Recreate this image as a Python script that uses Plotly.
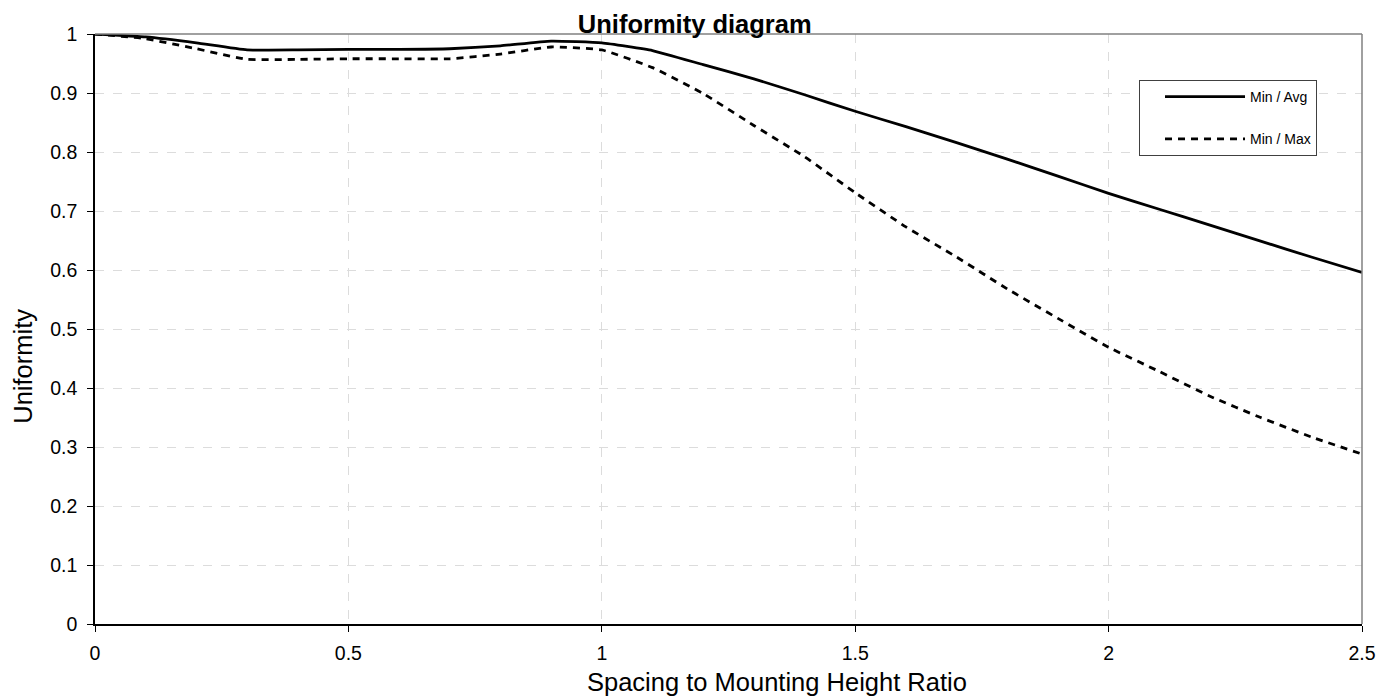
import plotly.graph_objects as go

ratio = [0, 0.1, 0.2, 0.3, 0.4, 0.5, 0.6, 0.7, 0.8, 0.9, 1.0, 1.1, 1.2, 1.3, 1.4, 1.5,
         1.6, 1.7, 1.8, 1.9, 2.0, 2.1, 2.2, 2.3, 2.4, 2.5]
min_avg = [1.0, 0.995, 0.985, 0.973, 0.973, 0.974, 0.974, 0.975, 0.980, 0.988, 0.985, 0.972,
           0.948, 0.924, 0.897, 0.869, 0.843, 0.816, 0.788, 0.759, 0.730, 0.703, 0.676,
           0.649, 0.622, 0.596]
min_max = [1.0, 0.992, 0.975, 0.957, 0.957, 0.958, 0.958, 0.958, 0.966, 0.978, 0.973, 0.943,
           0.899, 0.845, 0.792, 0.731, 0.673, 0.622, 0.568, 0.518, 0.469, 0.428, 0.386,
           0.350, 0.317, 0.288]
x_ticks = [0, 0.5, 1, 1.5, 2, 2.5]
x_labels = ["0", "0.5", "1", "1.5", "2", "2.5"]

font = "Liberation Sans, Arial, sans-serif"

fig = go.Figure()
fig.add_trace(go.Scatter(x=ratio, y=min_avg, mode="lines", name="Min / Avg",
                         legendgroup="a",
                         line=dict(color="black", width=2.8, shape="spline", smoothing=0.4)))
fig.add_trace(go.Scatter(x=ratio, y=min_max, mode="lines", name="Min / Max",
                         legendgroup="b",
                         line=dict(color="black", width=2.8, dash="7px,6px", shape="spline", smoothing=0.4)))

fig.update_layout(
    width=1393, height=697,
    margin=dict(l=87, r=39, t=26, b=81),
    paper_bgcolor="white", plot_bgcolor="white",
    font=dict(family=font, color="black"),
    title=dict(text="<b>Uniformity diagram</b>", x=0.493, xanchor="center",
               y=0.977, yanchor="middle", font=dict(size=25.5, family=font, color="black")),
    showlegend=True,
    legend=dict(x=0.824, y=0.922, xanchor="left", yanchor="top",
                bgcolor="white", bordercolor="#404040", borderwidth=1,
                font=dict(size=14, family=font), itemwidth=80, indentation=20,
                tracegroupgap=21),
    xaxis=dict(range=[0, 2.5], tickvals=x_ticks, ticktext=x_labels,
               showgrid=True, gridcolor="#dcdcdc", griddash="dash", gridwidth=1,
               showline=True, linecolor="black", linewidth=1.5,
               ticks="outside", ticklen=6, tickcolor="black",
               ticklabelstandoff=5,
               tickfont=dict(size=19.5, family=font),
               zeroline=False),
    yaxis=dict(range=[0, 1], dtick=0.1, tickformat="~g",
               showgrid=True, gridcolor="#dcdcdc", griddash="dash", gridwidth=1,
               showline=True, linecolor="black", linewidth=1.5,
               ticks="outside", ticklen=6, tickcolor="black",
               ticklabelstandoff=6,
               tickfont=dict(size=19.5, family=font),
               zeroline=False),
    annotations=[
        dict(text="Spacing to Mounting Height Ratio", xref="paper", yref="paper",
             x=0.538, y=0, yshift=-58, xanchor="center", yanchor="middle",
             showarrow=False, font=dict(size=25.5, family=font, color="black")),
        dict(text="Uniformity", xref="paper", yref="paper",
             x=0, xshift=-72, y=0.436, xanchor="center", yanchor="middle",
             textangle=-90, showarrow=False, font=dict(size=25.5, family=font, color="black")),
    ],
    shapes=[
        dict(type="line", xref="paper", yref="paper", x0=0, x1=1, y0=1, y1=1,
             line=dict(color="#808080", width=1.5)),
        dict(type="line", xref="paper", yref="paper", x0=1, x1=1, y0=0, y1=1,
             line=dict(color="#808080", width=1.5)),
    ],
)

fig.write_html("out.html")
